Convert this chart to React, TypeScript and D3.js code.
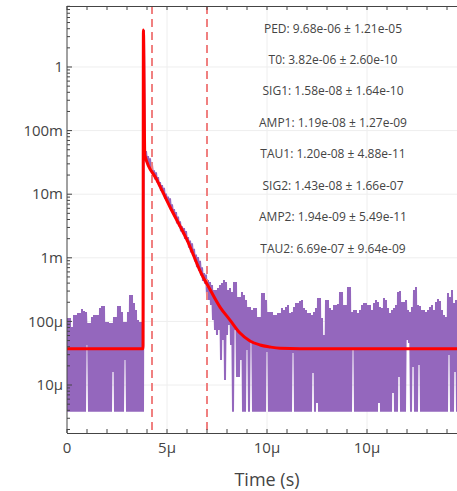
import React from "react";
import * as d3 from "d3";

// trace values are in micro-units (x1e-6), one sample pair every 0.1 μs
const MICRO = 1e-6;
const SAMPLE_STEP = 0.1;

const traceHi = [
  113, 113, 81.7, 126, 126, 136, 136, 157, 146, 141,
  94.4, 94.4, 117, 126, 126, 126, 162, 175, 175, 97.9,
  97.9, 94.4, 94.4, 117, 117, 175, 175, 141, 97.9, 97.9,
  141, 260, 260, 195, 151, 105, 97.9, 97.9,
  3800000,
  47700, 39600, 36700, 29300, 23600, 22000, 18500, 15500, 13950, 12600,
  10180, 9170, 8590, 6940, 5810, 5230, 4461, 3735, 3128, 2931,
  2638, 2123, 1864, 1690, 1380, 1127, 1026, 897, 707, 577,
  546,
  448, 416, 374, 312, 312, 335, 374, 402, 448, 416,
  312, 335, 290, 416, 416, 242, 242, 290, 260, 217,
  168, 168, 151, 162, 162, 117, 117, 280, 280, 217,
  141, 141, 141, 126, 126, 136, 136, 162, 151, 168,
  181, 136, 141, 168, 195, 195, 209, 217, 162, 151,
  136, 136, 126, 141, 162, 233, 233, 113, 61.1, 217,
  217, 162, 151, 181, 181, 188, 290, 290, 181, 181,
  347, 347, 141, 151, 151, 136, 151, 181, 195, 195,
  181, 181, 151, 195, 217, 202, 168, 162, 233, 217,
  162, 136, 151, 162, 181, 290, 301, 202, 202, 217,
  151, 141, 168, 312, 347, 181, 175, 151, 151, 141,
  151, 168, 181, 151, 202, 225, 209, 151, 126, 117,
  280, 242, 312, 195, 217, 242,
];

const traceLo = [
  3.8, 3.8, 3.8, 3.8, 3.8, 3.8, 3.8, 3.8, 3.8, 3.8,
  42.6, 3.8, 3.8, 3.8, 3.8, 3.8, 3.8, 3.8, 3.8, 3.8,
  3.8, 3.8, 3.8, 16, 3.8, 3.8, 3.8, 3.8, 3.8, 24.7,
  3.8, 3.8, 3.8, 3.8, 3.8, 3.8, 3.8, 3.8,
  3.8,
  37100, 33000, 28500, 23600, 20400, 17100, 15400, 13400, 11230, 10150,
  8500, 7650, 6670, 5580, 5030, 4360, 3462, 3117, 2610, 2358,
  1975, 1772, 1447, 1221, 1071, 874, 714, 625, 529, 432,
  394,
  260, 217, 181, 105, 73.2, 61.1, 73.2, 24.7, 51, 12,
  61.1, 87.8, 42.6, 3.8, 73.2, 13.4, 13.4, 24.7, 3.8, 3.8,
  35.5, 3.8, 51, 3.8, 3.8, 3.8, 3.8, 3.8, 3.8, 3.8,
  33, 3.8, 3.8, 3.8, 3.8, 3.8, 3.8, 3.8, 3.8, 3.8,
  3.8, 3.8, 3.8, 31.8, 3.8, 3.8, 3.8, 3.8, 3.8, 3.8,
  3.8, 3.8, 3.8, 15.4, 3.8, 5.21, 3.8, 3.8, 3.8, 3.8,
  3.8, 3.8, 3.8, 3.8, 3.8, 3.8, 3.8, 3.8, 3.8, 3.8,
  3.8, 3.8, 3.8, 35.5, 3.8, 3.8, 3.8, 3.8, 3.8, 3.8,
  3.8, 3.8, 3.8, 3.8, 3.8, 3.8, 5.21, 3.8, 3.8, 3.8,
  3.8, 3.8, 3.8, 7.48, 3.8, 3.8, 13.4, 3.8, 3.8, 3.8,
  51, 45.7, 3.8, 19.2, 3.8, 3.8, 20.6, 3.8, 3.8, 3.8,
  3.8, 3.8, 3.8, 3.8, 3.8, 3.8, 3.8, 3.8, 3.8, 3.8,
  3.8, 29.6, 3.8, 3.8, 16, 3.8,
];

// fit curve (time in μs)
const fitTime = [0, 3.8, 3.82, 3.89, 4.5, 5.15, 6.0, 6.8, 7.0, 7.65, 8.15, 8.65, 9.15, 9.65, 10.15, 10.65, 11.65, 20];
const fitValue = [3.72e-5, 3.72e-5, 3.8, 0.0413, 0.0167, 0.00629, 0.00191, 0.000499, 0.000387, 0.000168, 0.000105, 6.57e-5, 4.92e-5, 4.26e-5, 3.96e-5, 3.78e-5, 3.72e-5, 3.72e-5];

const markerTimes = [4.25, 7.0];

const xTickValues = [0, 5, 10, 15];
const xTickLabels = ["0", "5μ", "10μ", "10μ"];
const yTickValues = [1e-5, 1e-4, 1e-3, 1e-2, 1e-1, 1];
const yTickLabels = ["10μ", "100μ", "1m", "10m", "100m", "1"];

const paramNames = ["PED", "T0", "SIG1", "AMP1", "TAU1", "SIG2", "AMP2", "TAU2"];
const paramValues = [9.68e-6, 3.82e-6, 1.58e-8, 1.19e-8, 1.2e-8, 1.43e-8, 1.94e-9, 6.69e-7];
const paramErrors = [1.21e-5, 2.6e-10, 1.64e-10, 1.27e-9, 4.88e-11, 1.66e-7, 5.49e-11, 9.64e-9];

const W = 457;
const H = 491;
const left = 67;
const right = 467;
const top = 6;
const bottom = 433;
const font = "'Open Sans', verdana, arial, sans-serif";

// 9.68e-6 -> "9.68e-06"
const fmt = (v: number) => {
  const [m, e] = v.toExponential(2).split("e");
  const sign = e[0] === "-" ? "-" : "+";
  return `${m}e${sign}${e.replace(/[+-]/, "").padStart(2, "0")}`;
};

export default function App() {
  const x = d3.scaleLinear().domain([0, 20]).range([left, right]);
  const y = d3.scaleLog().domain([1.76e-6, 9.1]).range([bottom, top]);

  const pts: [number, number][] = [];
  traceHi.forEach((hi, i) => {
    const t = i * SAMPLE_STEP;
    pts.push([t, traceLo[i] * MICRO]);
    pts.push([t + SAMPLE_STEP / 2, hi * MICRO]);
  });
  const traceLine = d3.line<[number, number]>().x(d => x(d[0])).y(d => y(d[1]));

  const fitPts = fitTime.map((t, i) => [t, fitValue[i]] as [number, number]);
  const fitLine = d3
    .line<[number, number]>()
    .x(d => x(d[0]))
    .y(d => y(d[1]))
    .curve(d3.curveMonotoneX);

  const minorX = d3.range(0, 21);
  const logTicks: { v: number; major: boolean }[] = [];
  for (let k = -6; k <= 0; k++) {
    for (let m = 1; m <= 9; m++) {
      const v = m * Math.pow(10, k);
      if (v >= 1.76e-6 && v <= 9.1) logTicks.push({ v, major: m === 1 });
    }
  }

  return (
    <svg
      width={W}
      height={H}
      style={{ position: "absolute", left: 0, top: 0, background: "#fff" }}
      fontFamily={font}
    >
      <defs>
        <clipPath id="plot">
          <rect x={left} y={top} width={right - left} height={bottom - top} />
        </clipPath>
      </defs>

      {/* grid */}
      <g stroke="#eee" strokeWidth={1}>
        {xTickValues.slice(1).map(v => (
          <line key={v} x1={x(v)} x2={x(v)} y1={top} y2={bottom} />
        ))}
        {yTickValues.map(v => (
          <line key={v} x1={left} x2={right} y1={y(v)} y2={y(v)} />
        ))}
      </g>

      <g clipPath="url(#plot)">
        <path d={traceLine(pts) ?? ""} fill="none" stroke="#9467bd" strokeWidth={2} />
        {markerTimes.map(t => (
          <line
            key={t}
            x1={x(t)}
            x2={x(t)}
            y1={top}
            y2={bottom}
            stroke="#f08080"
            strokeWidth={2}
            strokeDasharray="8,5"
          />
        ))}
        <path d={fitLine(fitPts) ?? ""} fill="none" stroke="#ff0000" strokeWidth={3} />
      </g>

      {/* axes */}
      <g stroke="#444" strokeWidth={1}>
        <line x1={left} x2={left} y1={top} y2={bottom} />
        <line x1={left} x2={right} y1={bottom + 0.5} y2={bottom + 0.5} />
        <line x1={left} x2={right} y1={top + 0.5} y2={top + 0.5} />
        {minorX.map(v => (
          <g key={v}>
            <line x1={x(v)} x2={x(v)} y1={bottom} y2={bottom - 4} />
            <line x1={x(v)} x2={x(v)} y1={top} y2={top + 4} />
          </g>
        ))}
        {logTicks.map(d => (
          <line key={d.v} x1={left} x2={left + (d.major ? 5 : 3)} y1={y(d.v)} y2={y(d.v)} />
        ))}
      </g>

      <g fill="#444" fontSize={15}>
        {yTickValues.map((v, i) => (
          <text key={v} x={left - 4} y={y(v)} textAnchor="end" dy="0.35em">
            {yTickLabels[i]}
          </text>
        ))}
        {xTickValues.map((v, i) => (
          <text key={v} x={x(v)} y={bottom + 20} textAnchor="middle">
            {xTickLabels[i]}
          </text>
        ))}
      </g>

      <text x={(left + right) / 2} y={486} textAnchor="middle" fill="#444" fontSize={18}>
        Time (s)
      </text>

      <g fill="#444" fontSize={12} textAnchor="middle">
        {paramNames.map((name, i) => (
          <text key={name} x={333} y={28.3 + i * 31.45} dy="0.35em">
            {`${name}: ${fmt(paramValues[i])} ± ${fmt(paramErrors[i])}`}
          </text>
        ))}
      </g>
    </svg>
  );
}
